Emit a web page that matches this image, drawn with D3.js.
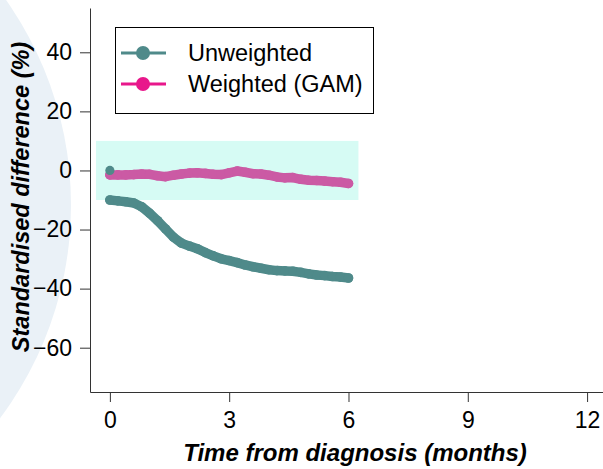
<!DOCTYPE html>
<html lang="en">
<head>
<meta charset="utf-8">
<title>Standardised difference over time</title>
<script src="https://cdn.jsdelivr.net/npm/d3@7"></script>
<style>
  body { margin: 0; background: #fff; }
  svg { display: block; font-family: "Liberation Sans", Arial, sans-serif; }
  .axis path, .axis line { stroke: #333; }
  .axis text { font-size: 23px; fill: #000; }
</style>
</head>
<body>
<svg width="603" height="469"></svg>
<script>
// data
var months = [0, 0.2, 0.4, 0.6, 0.8, 1.0, 1.2, 1.4, 1.6, 1.8, 2.0, 2.2, 2.4, 2.6, 2.8, 3.0,
              3.2, 3.4, 3.6, 3.8, 4.0, 4.2, 4.4, 4.6, 4.8, 5.0, 5.2, 5.4, 5.6, 5.8, 6.0];
var unweighted = [-10, -10.3, -10.6, -11, -12.3, -14.5, -17, -19.8, -22.6, -24.6, -25.6, -26.5,
                  -27.8, -28.9, -29.9, -30.5, -31.2, -32.0, -32.6, -33.1, -33.6, -33.9, -34,
                  -34.1, -34.5, -35, -35.4, -35.6, -35.9, -36.1, -36.4];
var weighted = [-1.5, -1.5, -1.5, -1.4, -1.2, -1.3, -1.8, -2.1, -1.6, -1.2, -0.9, -0.8, -1.0,
                -1.3, -1.4, -0.8, -0.2, -0.6, -1.1, -1.2, -1.6, -2.2, -2.5, -2.4, -3.0, -3.3,
                -3.4, -3.6, -3.8, -4.0, -4.4];
var baselinePoint = [{ t: 0, v: 0 }];
var band = [{ t0: -0.35, t1: 6.25, lo: -10, hi: 10 }];
var xTicks = [0, 3, 6, 9, 12];
var yTicks = [40, 20, 0, -20, -40, -60];
var seriesNames = ['Unweighted', 'Weighted (GAM)'];

var svg = d3.select('svg'),
	width = +svg.attr('width'),
	height = +svg.attr('height');

var x = d3.scaleLinear().domain([-0.5, 12.4]).range([90, 603]);
var y = d3.scaleLinear().domain([-75, 55]).range([392, 8]);

// faint watermark on the left
svg.append('circle')
	.attr('cx', -285)
	.attr('cy', 205)
	.attr('r', 356)
	.attr('fill', '#eaf1f7');

svg.selectAll('rect.band')
	.data(band)
	.enter()
	.append('rect')
	.attr('class', 'band')
	.attr('x', function(d) { return x(d.t0); })
	.attr('width', function(d) { return x(d.t1) - x(d.t0); })
	.attr('y', function(d) { return y(d.hi); })
	.attr('height', function(d) { return y(d.lo) - y(d.hi); })
	.attr('fill', '#d6fbf4');

// axes
svg.append('g')
	.attr('class', 'axis')
	.attr('transform', 'translate(0,392)')
	.call(d3.axisBottom(x).tickValues(xTicks).tickSize(10).tickSizeOuter(0).tickPadding(10));

svg.append('g')
	.attr('class', 'axis')
	.attr('transform', 'translate(90,0)')
	.call(d3.axisLeft(y).tickValues(yTicks).tickSize(10).tickSizeOuter(0).tickPadding(8)
		.tickFormat(function(d) { return d < 0 ? '\u2212' + Math.abs(d) : d; }));

// series
var series = [
	{ name: seriesNames[0], values: unweighted, color: '#4f8a8a' },
	{ name: seriesNames[1], values: weighted, color: '#cb5aa4' }
];

var line = d3.line()
	.x(function(d, i) { return x(months[i]); })
	.y(function(d) { return y(d); })
	.curve(d3.curveLinear);

series.forEach(function(s) {
	svg.append('path')
		.attr('d', line(s.values))
		.attr('fill', 'none')
		.attr('stroke', s.color)
		.attr('stroke-width', 9.5)
		.attr('stroke-linecap', 'round')
		.attr('stroke-linejoin', 'round');
	svg.append('g')
		.selectAll('circle')
		.data(s.values)
		.enter()
		.append('circle')
		.attr('cx', function(d, i) { return x(months[i]); })
		.attr('cy', function(d) { return y(d); })
		.attr('r', 4.8)
		.attr('fill', s.color);
});

svg.selectAll('circle.start')
	.data(baselinePoint)
	.enter()
	.append('circle')
	.attr('class', 'start')
	.attr('cx', function(d) { return x(d.t); })
	.attr('cy', function(d) { return y(d.v); })
	.attr('r', 4.6)
	.attr('fill', series[0].color);

// legend
var legend = svg.append('g');
legend.append('rect')
	.attr('x', 115.5)
	.attr('y', 27.5)
	.attr('width', 258)
	.attr('height', 86)
	.attr('fill', '#fff')
	.attr('stroke', '#000');

var legendColors = ['#4f8a8a', '#e8178b'];
var item = legend.selectAll('g.item')
	.data(seriesNames)
	.enter()
	.append('g')
	.attr('transform', function(d, i) { return 'translate(0,' + (53 + i * 31) + ')'; });

item.append('line')
	.attr('x1', 121).attr('x2', 166)
	.attr('stroke', function(d, i) { return legendColors[i]; })
	.attr('stroke-width', 3);
item.append('circle')
	.attr('cx', 143)
	.attr('r', 7)
	.attr('fill', function(d, i) { return legendColors[i]; });
item.append('text')
	.attr('x', 188)
	.attr('dy', '0.35em')
	.style('font-size', '23.5px')
	.text(function(d) { return d; });

// axis titles
svg.append('text')
	.attr('x', 355)
	.attr('y', 461)
	.attr('text-anchor', 'middle')
	.style('font-size', '24px')
	.style('font-weight', 'bold')
	.style('font-style', 'italic')
	.text('Time from diagnosis (months)');

svg.append('text')
	.attr('transform', 'translate(29,197) rotate(-90)')
	.attr('text-anchor', 'middle')
	.style('font-size', '23.5px')
	.style('font-weight', 'bold')
	.style('font-style', 'italic')
	.text('Standardised difference (%)');
</script>
</body>
</html>
